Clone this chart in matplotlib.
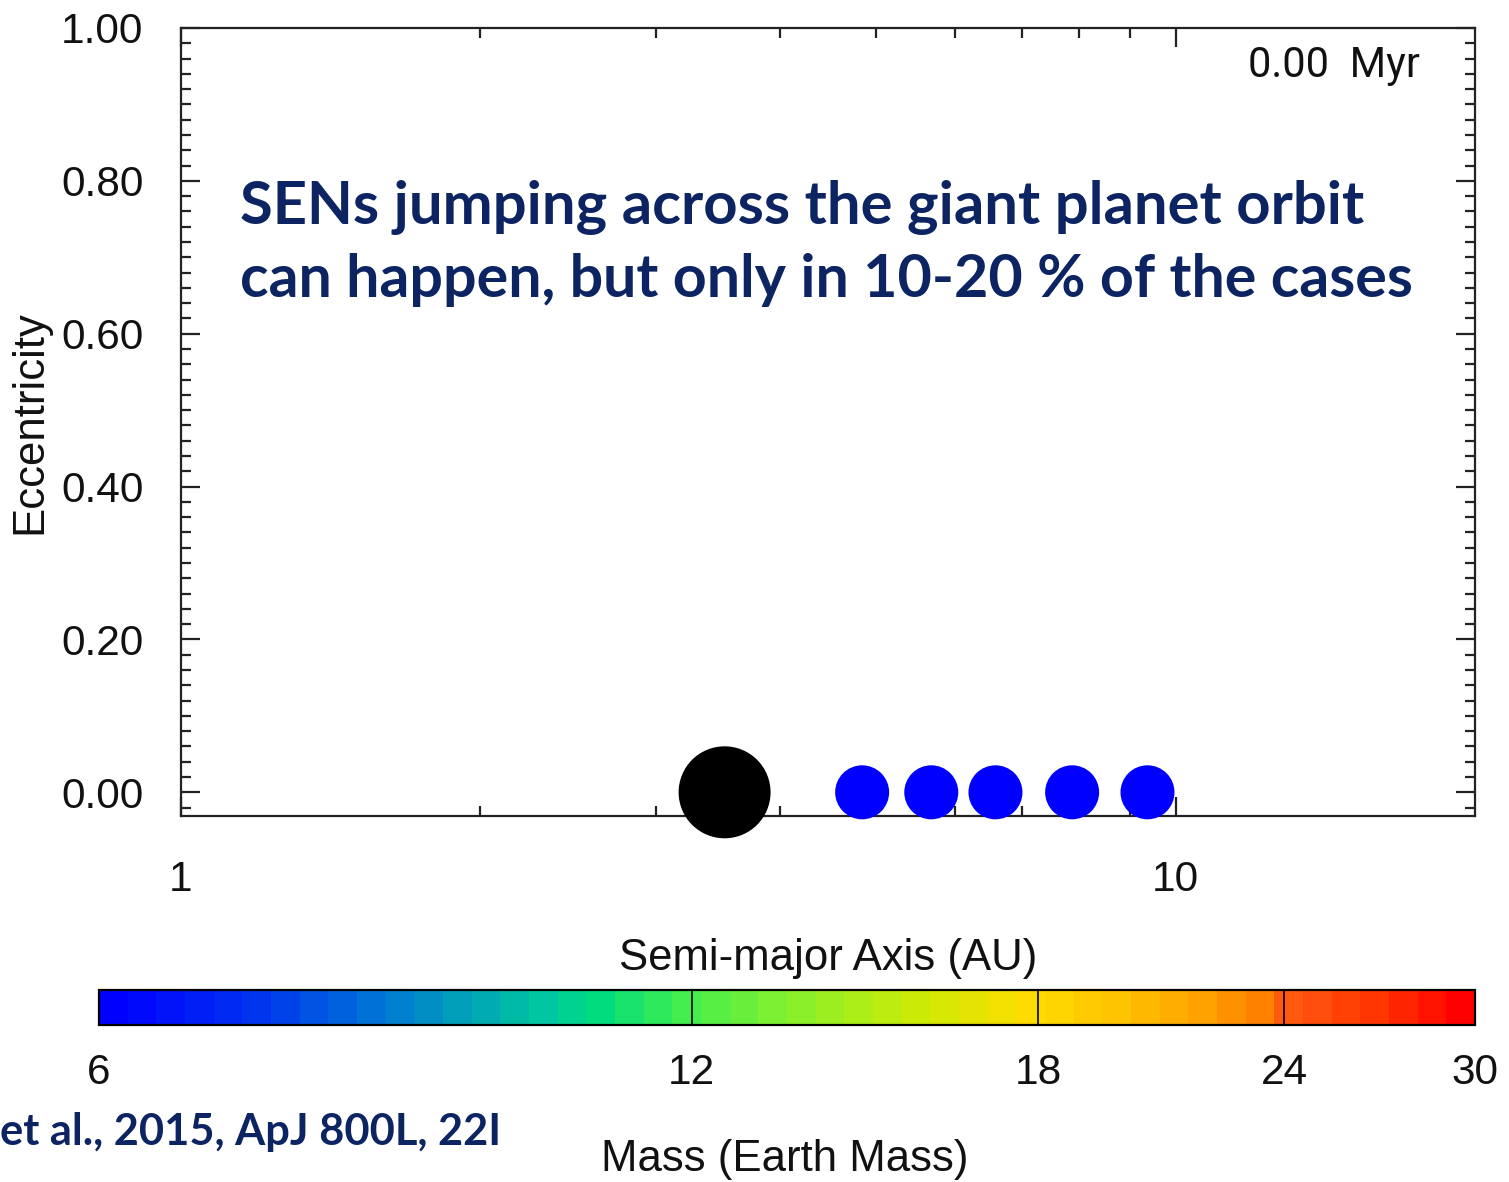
import matplotlib
matplotlib.use("Agg")
import matplotlib.pyplot as plt
import numpy as np
from matplotlib.colors import LinearSegmentedColormap, ListedColormap, LogNorm
from matplotlib.ticker import FixedLocator, NullLocator, MultipleLocator, FormatStrFormatter, NullFormatter
import matplotlib.cm as cm

# ---- data ----
giant_a = [3.52]
giant_e = [0.0]
sen_a = [4.84, 5.68, 6.59, 7.87, 9.37]
sen_e = [0.0, 0.0, 0.0, 0.0, 0.0]
sen_mass = [6, 6, 6, 6, 6]
mass_ticks = [6, 12, 18, 24, 30]
time_label = "0.00  Myr"
note_lines = ["SENs jumping across the giant planet orbit",
              "can happen, but only in 10-20 % of the cases"]
citation = "et al., 2015, ApJ 800L, 22I"

W, H = 1509, 1182
fig = plt.figure(figsize=(W / 100, H / 100), dpi=100)
fig.patch.set_facecolor("white")

def fx(px):
    return px / W

def fy(py):
    return 1 - py / H

ax = fig.add_axes([fx(181), fy(816), fx(1475) - fx(181), fy(28) - fy(816)])

anchors = [(0.00, "#0000FF"), (0.10, "#0030F0"), (0.19, "#0070D8"),
           (0.257, "#00A0B8"), (0.32, "#00C8A0"), (0.36, "#00DC80"),
           (0.42, "#40EE50"), (0.495, "#80F030"), (0.592, "#C8EC08"),
           (0.657, "#F0E000"), (0.683, "#FFDC00"), (0.754, "#FFC000"),
           (0.819, "#FF9C00"), (0.861, "#FF7800"), (0.87, "#FF5A10"),
           (0.949, "#FF3000"), (1.00, "#FF0000")]
base = LinearSegmentedColormap.from_list("mass", anchors)
cmap = ListedColormap(base(np.linspace(0, 1, 48)))
norm = LogNorm(vmin=mass_ticks[0], vmax=mass_ticks[-1])

ax.scatter(giant_a, giant_e, s=4385, c="black", edgecolors="none", zorder=3, clip_on=False)
ax.scatter(sen_a, sen_e, s=1512, c=sen_mass, cmap=cmap, norm=norm, edgecolors="none", zorder=3, clip_on=False)

ax.set_xscale("log")
ax.set_xlim(1, 20)
ax.set_ylim(-0.031, 1.0)

ax.xaxis.set_major_locator(FixedLocator([1, 10]))
ax.xaxis.set_major_formatter(FormatStrFormatter("%d"))
ax.xaxis.set_minor_locator(FixedLocator([2, 3, 4, 5, 6, 7, 8, 9]))
ax.xaxis.set_minor_formatter(NullFormatter())
ax.yaxis.set_major_locator(MultipleLocator(0.2))
ax.yaxis.set_major_formatter(FormatStrFormatter("%.2f"))
ax.yaxis.set_minor_locator(MultipleLocator(0.02))

lab_font = "Liberation Sans"
tick_fs = 30.5
label_fs = 31.5
for s in ax.spines.values():
    s.set_linewidth(1.6)
    s.set_color("#222222")
ax.tick_params(which="both", direction="in", top=True, right=True, color="#222222")
ax.tick_params(which="major", length=14, width=1.6)
ax.tick_params(which="minor", length=7, width=1.6)
ax.tick_params(axis="x", which="major", pad=32, labelsize=tick_fs)
ax.tick_params(axis="y", which="major", pad=27, labelsize=tick_fs)
for lbl in ax.get_xticklabels() + ax.get_yticklabels():
    lbl.set_fontfamily(lab_font)
    lbl.set_color("#111111")

ax.set_ylabel("Eccentricity", fontsize=label_fs, family=lab_font, color="#111111")
ax.yaxis.set_label_coords(-0.101, 0.5)
ax.set_xlabel("Semi-major Axis (AU)", fontsize=label_fs, family=lab_font, color="#111111")
ax.xaxis.set_label_coords(0.5, -0.155)

ax.text(0.9575, 0.978, time_label, transform=ax.transAxes, ha="right", va="top",
        fontsize=30, family="Roboto", color="#111111")

# colorbar
cax = fig.add_axes([fx(99), fy(1025), fx(1475) - fx(99), fy(990) - fy(1025)])
sm = cm.ScalarMappable(norm=norm, cmap=cmap)
cb = fig.colorbar(sm, cax=cax, orientation="horizontal")
cb.set_ticks(mass_ticks)
cb.set_ticklabels([str(m) for m in mass_ticks])
cax.xaxis.set_minor_locator(NullLocator())
cb.outline.set_linewidth(1.6)
cax.tick_params(which="major", direction="in", length=25, width=1.2, pad=20,
                labelsize=tick_fs, color="black")
for lbl in cax.get_xticklabels():
    lbl.set_fontfamily(lab_font)
    lbl.set_color("#111111")
fig.text(fx(785), fy(1160), "Mass (Earth Mass)", ha="center", va="center",
         fontsize=label_fs, family=lab_font, color="#111111")

navy = "#0c2461"
fig.text(fx(240), fy(224), note_lines[0], ha="left", va="baseline", fontsize=43,
         fontweight="bold", family="Lato", color=navy)
fig.text(fx(240), fy(297), note_lines[1], ha="left", va="baseline", fontsize=42.6,
         fontweight="bold", family="Lato", color=navy)
fig.text(fx(0), fy(1145), citation, ha="left", va="baseline", fontsize=31.2,
         fontweight="bold", family="Lato", color=navy)

fig.savefig("out.png", dpi=100, facecolor="white")
